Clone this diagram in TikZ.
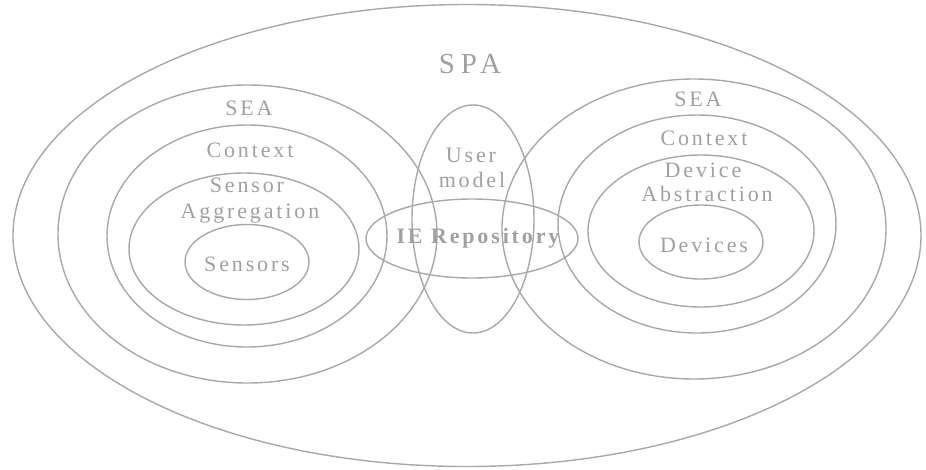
\documentclass[tikz,border=0pt]{standalone}
\usepackage{fontspec}
\newfontfamily\lblfont[LetterSpace=13]{Liberation Serif}
\newfontfamily\titlefont[LetterSpace=20]{Liberation Serif}
\usetikzlibrary{shapes.geometric}
\definecolor{ringgray}{RGB}{168,168,168}
\definecolor{labelgray}{RGB}{160,160,160}
\begin{document}
\begin{tikzpicture}[x=1pt,y=-1pt,
  ring/.style={ellipse,draw=ringgray,line width=1.4pt,inner sep=0pt},
  lbl/.style={anchor=base,inner sep=0pt,text=labelgray,font=\lblfont\fontsize{22}{25}\selectfont},
  biglbl/.style={lbl,font=\titlefont\fontsize{29}{32}\selectfont},
  boldlbl/.style={lbl,font=\lblfont\bfseries\fontsize{22}{25}\selectfont}]
\useasboundingbox (0,0) rectangle (926,469);
% outer platform
\node[ring,minimum width=908,minimum height=462] (spa) at (467,235.5) {};
% left environment
\node[ring,minimum width=379,minimum height=298] (seaL) at (247.5,234) {};
\node[ring,minimum width=280,minimum height=222] (ctxL) at (247,236) {};
\node[ring,minimum width=230,minimum height=152] (aggL) at (244,249) {};
\node[ring,minimum width=124,minimum height=75] (sens) at (247,262) {};
% right environment
\node[ring,minimum width=384,minimum height=300] (seaR) at (694,229) {};
\node[ring,minimum width=278,minimum height=218] (ctxR) at (697,224) {};
\node[ring,minimum width=226,minimum height=152] (absR) at (701,231) {};
\node[ring,minimum width=124,minimum height=74] (dev) at (701,242) {};
% shared parts in the middle
\node[ring,minimum width=122,minimum height=228] (user) at (473,219) {};
\node[ring,minimum width=212,minimum height=79] (repo) at (472,238.5) {};
% labels
\node[biglbl] (tSPA) at (470,73) {SPA};
\node[lbl] (tSEAL) at (249,115) {SEA};
\node[lbl] (tCtxL) at (250,157) {Context};
\node[lbl] (tSen) at (247,192) {Sensor};
\node[lbl] (tAgg) at (250,218) {Aggregation};
\node[lbl] (tSens) at (247,271) {Sensors};
\node[lbl] (tUser) at (471,162) {User};
\node[lbl] (tModel) at (472,187) {model};
\node[boldlbl] (tRepo) at (478,243) {IE Repository};
\node[lbl] (tSEAR) at (698,106) {SEA};
\node[lbl] (tCtxR) at (704,145) {Context};
\node[lbl] (tDev) at (703,177) {Device};
\node[lbl] (tAbs) at (707,201) {Abstraction};
\node[lbl] (tDevs) at (704,252) {Devices};
\end{tikzpicture}
\end{document}
